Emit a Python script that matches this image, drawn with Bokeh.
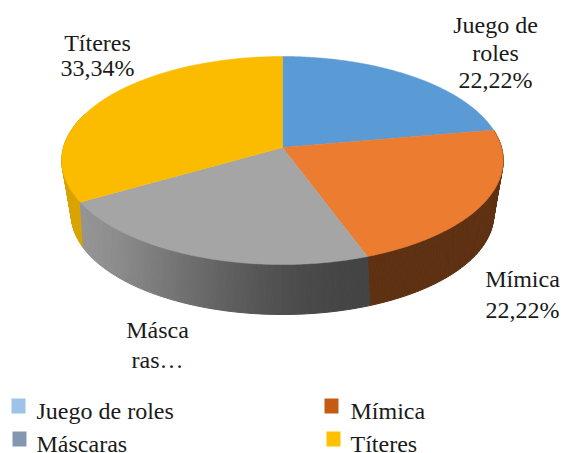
import math
from bokeh.plotting import figure
from bokeh.models import Range1d
from bokeh.core.properties import value
from bokeh.embed import file_html
from bokeh.resources import INLINE

categories = ["Juego de roles", "Mímica", "Máscaras", "Títeres"]
percent = [22.22, 22.22, 22.22, 33.34]
top_colors = ["#5b9bd5", "#eb7c30", "#a5a5a5", "#fbbc00"]
side_colors = ["#3d6d99", "#5f3113", None, "#d9a300"]
legend_colors = ["#9dc3e6", "#c55a11", "#8497b0", "#ffc000"]
label_lines = [["Juego de", "roles", "22,22%"], ["Mímica", "22,22%"], ["Másca", "ras…"], ["Títeres", "33,34%"]]
label_centers = [495, 522, 157, 97]
label_middles = [[24, 52, 79], [278, 309], [329, 359], [42, 67]]
legend_square_x = [11, 324, 12, 326]
legend_square_y = [398, 398, 431, 431]
legend_text_x = [36, 350, 36, 350]
legend_middle = [410, 410, 443, 443]

CX = 282
TOP = dict(cy=147, A=219, B=102.4, d=0.125)
BOT = dict(cy=194, A=207, B=96, d=0.2)


def project(a_deg, g):
    a = math.radians(a_deg)
    u, v = math.cos(a), math.sin(a)
    k = 1 + g["d"] * v
    return CX + g["A"] * u / k, g["cy"] - g["B"] * v / k


def arc(a0, a1, g, n=120):
    return [project(a0 + (a1 - a0) * i / n, g) for i in range(n + 1)]


total = sum(percent)
bounds = [90.0]
for val in percent:
    bounds.append(bounds[-1] - 360 * val / total)

p = figure(width=563, height=453, output_backend="svg", toolbar_location=None,
           x_range=Range1d(0, 563), y_range=Range1d(453, 0),
           min_border=0, outline_line_color=None, background_fill_color="white")
p.axis.visible = False
p.grid.visible = False

# side walls
sx, sy, sc = [], [], []


def wall(a0, a1, colfn, n):
    for i in range(n):
        t0 = a0 + (a1 - a0) * i / n
        t1 = a0 + (a1 - a0) * (i + 1) / n
        pts = [project(t0, TOP), project(t1, TOP), project(t1, BOT), project(t0, BOT)]
        sx.append([q[0] for q in pts])
        sy.append([q[1] for q in pts])
        sc.append(colfn((i + 0.5) / n))


wall(bounds[1], bounds[2], lambda f: side_colors[1], 80)
wall(bounds[3], bounds[3] - 50, lambda f: side_colors[3], 50)


def gray(f):
    # f runs from the lighter left end to the darker right end of the wall
    g = round(0x94 + (0x44 - 0x94) * f)
    return "#%02x%02x%02x" % (g, g, g)


wall(bounds[3], bounds[2], lambda f: gray(0.5 * (1 - math.cos(math.pi * f))), 80)
p.patches(sx, sy, fill_color=sc, line_color=sc, line_width=1)

# top faces
for i in range(4):
    pts = [(CX, TOP["cy"])] + arc(bounds[i], bounds[i + 1], TOP)
    p.patch([q[0] for q in pts], [q[1] for q in pts], fill_color=top_colors[i],
            line_color=top_colors[i], line_width=0.5)

# data labels
for lines, cx, mids in zip(label_lines, label_centers, label_middles):
    p.text([cx] * len(lines), mids, text=lines, text_font=value("Liberation Serif"),
           text_font_size="24px", text_color="#1a1a1a", text_align="center",
           text_baseline="middle")

# legend
p.quad(left=legend_square_x, right=[v + 14 for v in legend_square_x],
       top=legend_square_y, bottom=[v + 15 for v in legend_square_y],
       fill_color=legend_colors, line_color=None)
p.text(legend_text_x, legend_middle, text=categories, text_font=value("Liberation Serif"),
       text_font_size="24px", text_color="#1a1a1a", text_align="left",
       text_baseline="middle")

open("out.html", "w").write(file_html(p, INLINE))
